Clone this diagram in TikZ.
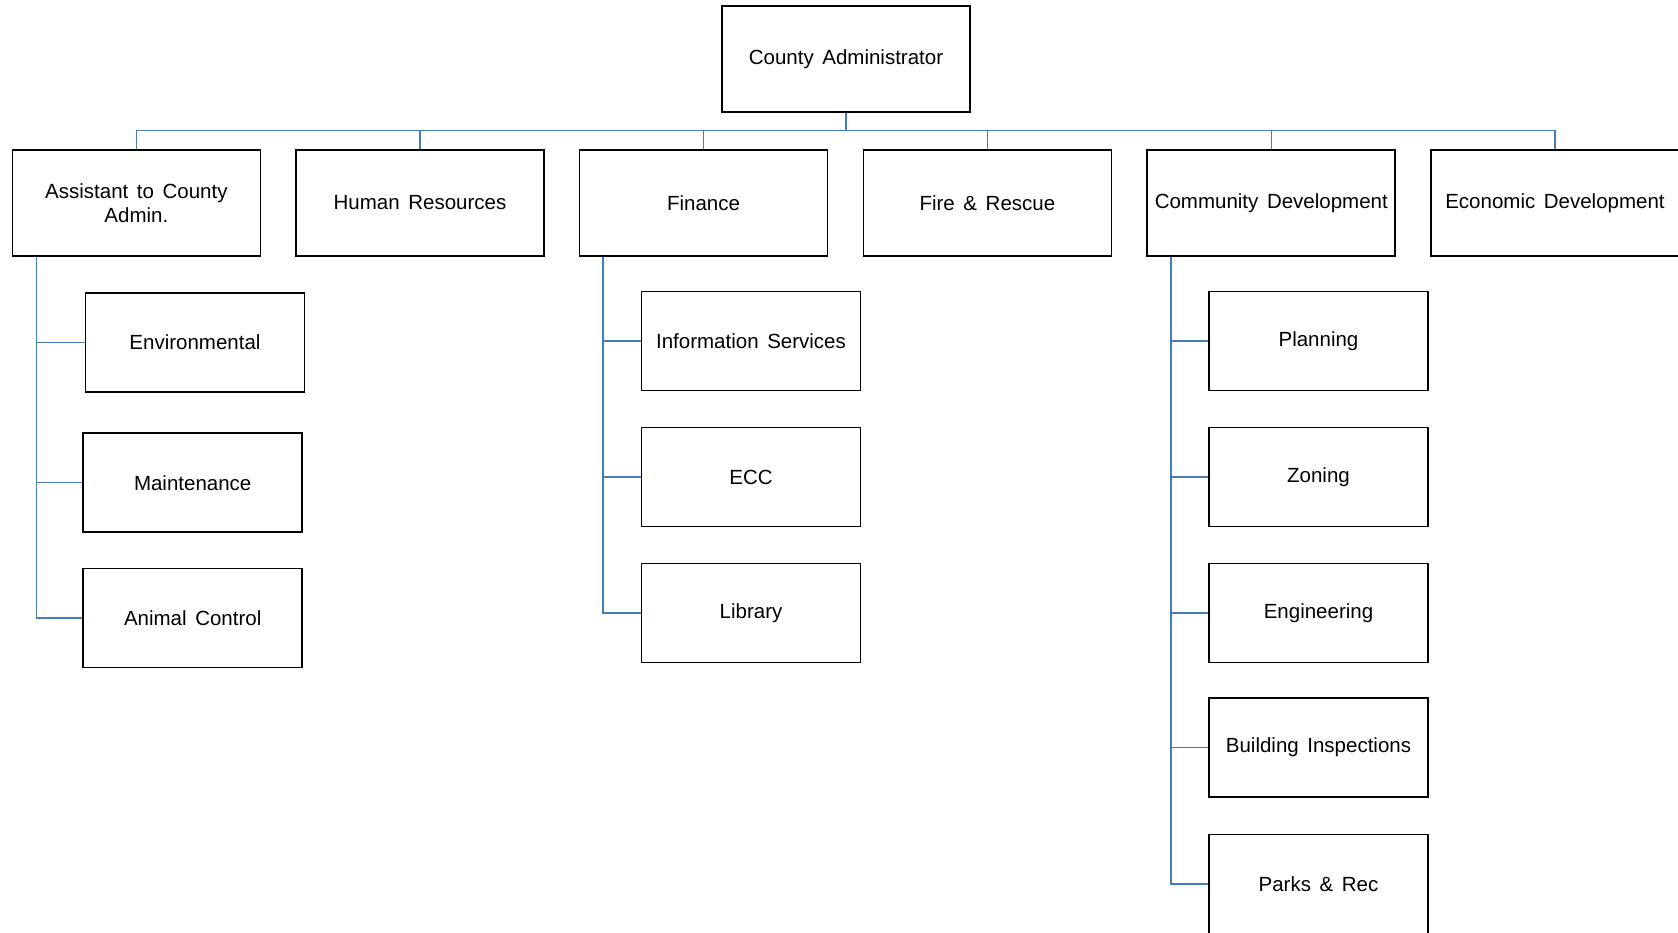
\documentclass[tikz,border=0pt]{standalone}
\usepackage{fontspec}
\setmainfont{Liberation Sans}
\newcommand{\boxfont}{\fontsize{20.5}{23.5}\selectfont\spaceskip=0.42em\relax}
\begin{document}
\begin{tikzpicture}[x=1pt,y=-1pt,
  box/.style={draw=black,line width=1.8pt,fill=white,inner sep=1pt,align=center,
    font=\boxfont},
  big/.style={box,minimum width=248pt,minimum height=106pt},
  small/.style={box,minimum width=219pt,minimum height=99pt},
  conn/.style={draw={rgb,255:red,70;green,125;blue,185},line width=1.5pt}]
\useasboundingbox (0,0) rectangle (1678,932);
\coordinate (bus) at (0,130.6);
% top
\node[big] (ca) at (846,59.2) {County Administrator};
% level 2
\node[big] (asst) at (136.4,203) {Assistant to County\\Admin.};
\node[big] (hr) at (420,203) {Human Resources};
\node[big] (fin) at (703.5,203) {Finance};
\node[big] (fire) at (987.4,203) {Fire \& Rescue};
\node[big] (cd) at (1271.3,203) {Community Development};
\node[big] (econ) at (1555,203) {Economic Development};
% level 3
\node[small] (env) at (195,342.5) {Environmental};
\node[small] (maint) at (192.7,482.7) {Maintenance};
\node[small] (animal) at (192.7,618) {Animal Control};
\node[small] (info) at (751,341) {Information Services};
\node[small] (ecc) at (751,477) {ECC};
\node[small] (lib) at (751,613) {Library};
\node[small] (plan) at (1318.5,341) {Planning};
\node[small] (zon) at (1318.5,477) {Zoning};
\node[small] (eng) at (1318.5,613) {Engineering};
\node[small] (bldg) at (1318.5,747.5) {Building Inspections};
\node[small] (parks) at (1318.5,884) {Parks \& Rec};
% connectors
\draw[conn] (ca.south) -- (ca.south |- bus);
\draw[conn] (asst.north) -- (asst.north |- bus) -- (econ.north |- bus) -- (econ.north);
\foreach \n in {hr,fin,fire,cd} \draw[conn] (\n.north) -- (\n.north |- bus);
\coordinate (av) at ([xshift=25pt]asst.south west);
\draw[conn] (av) |- (animal.west);
\draw[conn] (av |- env.west) -- (env.west);
\draw[conn] (av |- maint.west) -- (maint.west);
\coordinate (fv) at ([xshift=24.5pt]fin.south west);
\draw[conn] (fv) |- (lib.west);
\draw[conn] (fv |- info.west) -- (info.west);
\draw[conn] (fv |- ecc.west) -- (ecc.west);
\coordinate (cv) at ([xshift=24.5pt]cd.south west);
\draw[conn] (cv) |- (parks.west);
\foreach \n in {plan,zon,eng,bldg} \draw[conn] (cv |- \n.west) -- (\n.west);
\end{tikzpicture}
\end{document}
